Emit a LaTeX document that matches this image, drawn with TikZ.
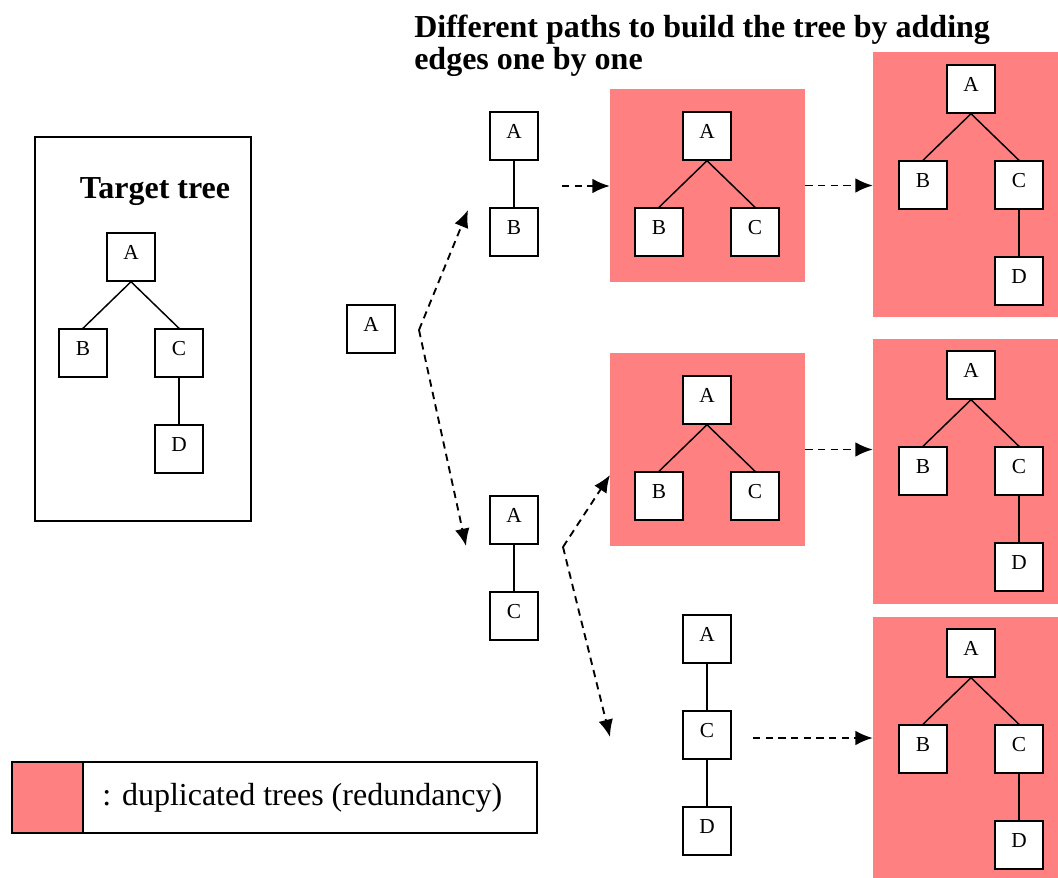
\documentclass[tikz,border=0pt]{standalone}
\usepackage{fontspec}
\setmainfont{Liberation Serif}
\usetikzlibrary{arrows.meta, positioning, calc, fit}
\definecolor{dupred}{RGB}{255,128,128}

\begin{document}
\begin{tikzpicture}[x=0.75pt, y=-0.75pt,
    box/.style={draw, fill=white, line width=1.1pt, minimum size=36pt, inner sep=0pt,
        font=\fontsize{16}{18}\selectfont, text height=11pt, text depth=7pt},
    edge/.style={line width=1.1pt},
    dup/.style={fill=dupred, inner sep=0pt},
    move/.style={line width=1.4pt, dash pattern=on 5.5pt off 4pt,
        -{Latex[length=13pt,width=11pt]}},
    heading/.style={font=\fontsize{24}{24}\selectfont\bfseries, align=left}]
\useasboundingbox (0,0) rectangle (1058,878);
% Title
\node[heading, anchor=north west, inner sep=0pt] (title) at (414,15)
    {Different paths to build the tree by adding\\edges one by one};
% Target tree frame
\draw[line width=1.2pt] (35,137) rectangle (251,521);
\node[heading] (target) at (155,192) {Target tree};
% Duplicated (red) areas
\node[dup, fit={(610,89) (805,282)}] (dup1) {};
\node[dup, fit={(873,52) (1058,317)}] (dup2) {};
\node[dup, fit={(610,353) (805,546)}] (dup3) {};
\node[dup, fit={(873,339) (1058,604)}] (dup4) {};
\node[dup, fit={(873,617) (1058,878)}] (dup5) {};
% Full trees A-B, A-C, C-D
\foreach \tr/\x/\y in {t/131/257, q/971/89, r/971/375, s/971/653} {
    \node[box] (\tr-a) at (\x,\y) {A};
    \node[box] (\tr-b) at (\x-48,\y+96) {B};
    \node[box] (\tr-c) at (\x+48,\y+96) {C};
    \node[box] (\tr-d) at (\x+48,\y+192) {D};
    \draw[edge] (\tr-a.south) -- (\tr-b.north);
    \draw[edge] (\tr-a.south) -- (\tr-c.north);
    \draw[edge] (\tr-c.south) -- (\tr-d.north);
}
% Trees A-B, A-C
\foreach \tr/\x/\y in {u/707/136, v/707/400} {
    \node[box] (\tr-a) at (\x,\y) {A};
    \node[box] (\tr-b) at (\x-48,\y+96) {B};
    \node[box] (\tr-c) at (\x+48,\y+96) {C};
    \draw[edge] (\tr-a.south) -- (\tr-b.north);
    \draw[edge] (\tr-a.south) -- (\tr-c.north);
}
% Single root
\node[box] (root) at (371,329) {A};
% Chains
\node[box] (ab-a) at (514,136) {A};
\node[box] (ab-b) at (514,232) {B};
\draw[edge] (ab-a) -- (ab-b);
\node[box] (ac-a) at (514,520) {A};
\node[box] (ac-c) at (514,616) {C};
\draw[edge] (ac-a) -- (ac-c);
\node[box] (acd-a) at (707,639) {A};
\node[box] (acd-c) at (707,735) {C};
\node[box] (acd-d) at (707,831) {D};
\draw[edge] (acd-a) -- (acd-c);
\draw[edge] (acd-c) -- (acd-d);
% Steps
\coordinate (fork1) at (419,330);
\coordinate (up1) at (468,210);
\coordinate (down1) at (466,546);
\draw[move] (fork1) -- (up1);
\draw[move] (fork1) -- (down1);
\coordinate (fork2) at (563,547);
\coordinate (up2) at (610,475);
\coordinate (down2) at (610,737);
\draw[move] (fork2) -- (up2);
\draw[move] (fork2) -- (down2);
\coordinate (step1) at (562,186);
\draw[move] (step1) -- (step1 -| dup1.west);
\draw[move] (dup1.east) -- (dup1.east -| dup2.west);
\draw[move] (dup3.east) -- (dup3.east -| dup4.west);
\coordinate (step2) at (753,738);
\draw[move] (step2) -- (step2 -| dup5.west);
% Legend
\node[draw, fill=dupred, line width=1.2pt, fit={(12,762) (83,833)}, inner sep=0pt] (swatch) {};
\node[draw, line width=1.2pt, fit={(83,762) (537,833)}, inner sep=0pt] (legend) {};
\node[anchor=west, inner sep=0pt, font=\fontsize{24}{28}\selectfont] (legendtext)
    at ([xshift=15pt]legend.west) {: duplicated trees (redundancy)};
\end{tikzpicture}
\end{document}
